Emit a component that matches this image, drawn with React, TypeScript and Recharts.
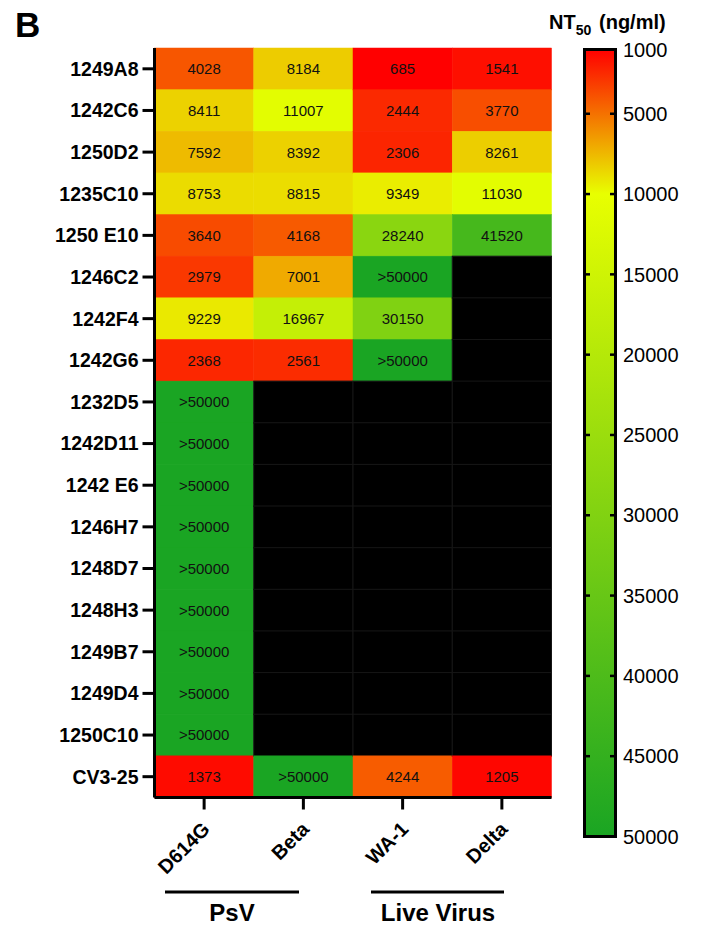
import { BarChart, Bar, XAxis, YAxis } from "recharts";

const FONT = '"Liberation Sans", Arial, Helvetica, sans-serif';

// rows (antibodies), top to bottom
const rows = [
  "1249A8", "1242C6", "1250D2", "1235C10", "1250 E10", "1246C2", "1242F4", "1242G6",
  "1232D5", "1242D11", "1242 E6", "1246H7", "1248D7", "1248H3", "1249B7", "1249D4",
  "1250C10", "CV3-25",
];
const columns = ["D614G", "Beta", "WA-1", "Delta"];

// NT50 values per column (null = not tested -> black)
const d614g = [
  "4028", "8411", "7592", "8753", "3640", "2979", "9229", "2368",
  ">50000", ">50000", ">50000", ">50000", ">50000", ">50000", ">50000", ">50000", ">50000",
  "1373",
];
const beta = [
  "8184", "11007", "8392", "8815", "4168", "7001", "16967", "2561",
  null, null, null, null, null, null, null, null, null,
  ">50000",
];
const wa1 = [
  "685", "2444", "2306", "9349", "28240", ">50000", "30150", ">50000",
  null, null, null, null, null, null, null, null, null,
  "4244",
];
const delta = [
  "1541", "3770", "8261", "11030", "41520", null, null, null,
  null, null, null, null, null, null, null, null, null,
  "1205",
];

const colorbarTicks = [1000, 5000, 10000, 15000, 20000, 25000, 30000, 35000, 40000, 45000, 50000];
const scaleValues = [1000, 10000, 50000];
const scaleColors = ["#ff0000", "#e8ff00", "#1aa523"];

const series = [d614g, beta, wa1, delta];

const data = rows.map((row, i) => {
  const o: any = { row };
  series.forEach((s, j) => {
    o[`c${j}`] = 1;
    o[`l${j}`] = s[i];
  });
  return o;
});

const barData = [{ name: "scale", range: [1000, 50000] }];

function hexToRgb(h: string) {
  const n = parseInt(h.slice(1), 16);
  return [(n >> 16) & 255, (n >> 8) & 255, n & 255];
}

function colorFor(v: number) {
  const lo = scaleValues[0];
  const hi = scaleValues[scaleValues.length - 1];
  const x = Math.max(lo, Math.min(hi, v));
  let k = 0;
  while (k < scaleValues.length - 2 && x > scaleValues[k + 1]) k++;
  const t = (x - scaleValues[k]) / (scaleValues[k + 1] - scaleValues[k]);
  const a = hexToRgb(scaleColors[k]);
  const b = hexToRgb(scaleColors[k + 1]);
  const c = a.map((av, i) => Math.round(av + (b[i] - av) * t));
  return `rgb(${c[0]},${c[1]},${c[2]})`;
}

const toNum = (s: string) => parseFloat(s.replace(">", ""));

const makeCell = (j: number) => (props: any) => {
  const { x, y, width, height, payload } = props;
  const label = payload[`l${j}`];
  const fill = label ? colorFor(toNum(label)) : "#000";
  return (
    <g>
      <rect x={x} y={y} width={width} height={height} fill={fill} stroke={label ? fill : "#161616"} strokeWidth={label ? 0.5 : 1} />
      {label && (
        <text x={x + width / 2} y={y + height / 2} dy="0.35em" textAnchor="middle" fontSize={15} fill="#111">
          {label}
        </text>
      )}
    </g>
  );
};

const ColumnTick = (props: any) => {
  const { x, y, payload } = props;
  const name = columns[Math.floor(payload.value)];
  const ax = x + 7;
  const ay = y + 19;
  return (
    <text x={ax} y={ay} transform={`rotate(-45, ${ax}, ${ay})`} textAnchor="end" fontSize={20} fontWeight={700} fill="#000">
      {name}
    </text>
  );
};

const ScaleTick = (props: any) => {
  const { x, y, payload } = props;
  return (
    <g>
      <line x1={x - 32.5} x2={x - 25.5} y1={y} y2={y} stroke="#000" strokeWidth={2.5} />
      <line x1={x - 5.5} x2={x + 1.5} y1={y} y2={y} stroke="#000" strokeWidth={2.5} />
      <text x={x + 7.5} y={y} dy="0.36em" textAnchor="start" fontSize={20} fill="#000">
        {payload.value}
      </text>
    </g>
  );
};

const frame = { stroke: "#000", strokeWidth: 3 };

export default function App() {
  return (
    <div style={{ position: "absolute", left: 0, top: 0, width: 717, height: 925, fontFamily: FONT, background: "#fff" }}>
      <div style={{ position: "absolute", left: 0, top: 0 }}>
        <BarChart
          width={580}
          height={925}
          data={data}
          layout="vertical"
          barCategoryGap={0}
          barGap={0}
          margin={{ top: 48, right: 28.5, bottom: 67.5, left: 14.5 }}
        >
          {series.map((_, j) => (
            <Bar key={j} dataKey={`c${j}`} stackId="a" isAnimationActive={false} shape={makeCell(j)} />
          ))}
          <XAxis
            type="number"
            domain={[0, 4]}
            ticks={[0.5, 1.5, 2.5, 3.5]}
            interval={0}
            tick={<ColumnTick />}
            tickSize={12}
            axisLine={frame}
            tickLine={frame}
            height={60}
          />
          <XAxis xAxisId="top" orientation="top" type="number" domain={[0, 4]} tick={false} tickLine={false} height={0} axisLine={frame} />
          <YAxis
            type="category"
            dataKey="row"
            width={140}
            interval={0}
            tickSize={12}
            tickMargin={4}
            tick={{ fill: "#000", fontSize: 19.5, fontWeight: 700 }}
            axisLine={frame}
            tickLine={frame}
          />
          <YAxis yAxisId="right" orientation="right" type="category" dataKey="row" width={0} tick={false} tickLine={false} axisLine={frame} />
        </BarChart>
      </div>

      <div style={{ position: "absolute", left: 560, top: 0 }}>
        <BarChart width={157} height={925} data={barData} barCategoryGap={0} margin={{ top: 49.5, right: 0, bottom: 88.5, left: 24.5 }}>
          <defs>
            <linearGradient id="ntGrad" x1="0" y1="0" x2="0" y2="1">
              {scaleValues.map((v, i) => (
                <stop key={v} offset={(v - scaleValues[0]) / (scaleValues[scaleValues.length - 1] - scaleValues[0])} stopColor={scaleColors[i]} />
              ))}
            </linearGradient>
          </defs>
          <Bar dataKey="range" fill="url(#ntGrad)" stroke="#000" strokeWidth={3} isAnimationActive={false} />
          <XAxis dataKey="name" hide height={0} />
          <YAxis
            type="number"
            domain={[1000, 50000]}
            ticks={colorbarTicks}
            interval={0}
            reversed
            orientation="right"
            width={101.5}
            tickSize={0}
            tickMargin={0}
            axisLine={false}
            tickLine={false}
            tick={<ScaleTick />}
          />
        </BarChart>
      </div>

      <svg width={717} height={925} style={{ position: "absolute", left: 0, top: 0, pointerEvents: "none" }}>
        <text x={15} y={37} fontSize={35} fontWeight={700} fill="#000">B</text>
        <text x={549} y={29} fontSize={20} fontWeight={700} fill="#000">
          NT
          <tspan fontSize={14} dy={6}>50</tspan>
          <tspan x={599} dy={-6} fontSize={20}>(ng/ml)</tspan>
        </text>
        <line x1={165} x2={299} y1={892} y2={892} stroke="#000" strokeWidth={3} />
        <line x1={371} x2={504} y1={892} y2={892} stroke="#000" strokeWidth={3} />
        <text x={232} y={921} textAnchor="middle" fontSize={24} fontWeight={700} fill="#000">PsV</text>
        <text x={438} y={921} textAnchor="middle" fontSize={24} fontWeight={700} fill="#000">Live Virus</text>
      </svg>
    </div>
  );
}
